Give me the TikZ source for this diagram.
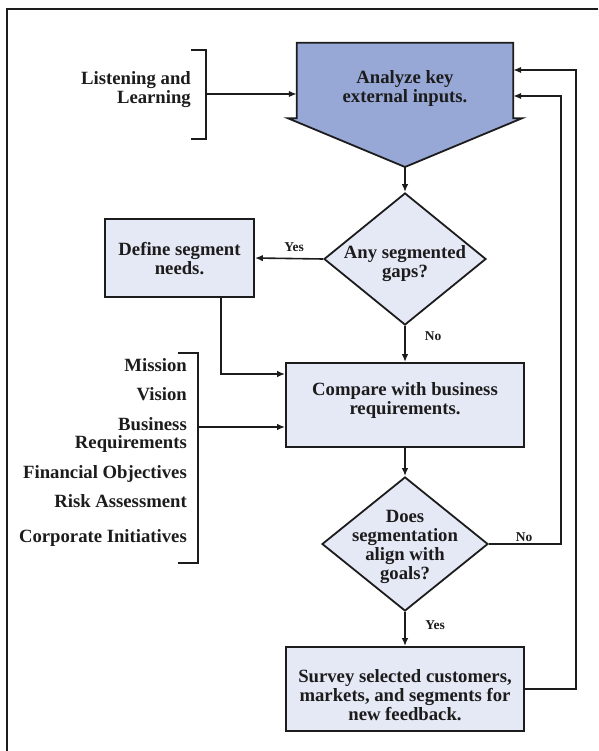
\documentclass[tikz,border=0pt]{standalone}
\usepackage{fontspec}
\setmainfont{Liberation Serif}
\usetikzlibrary{shapes.geometric,arrows.meta,calc}
\definecolor{inputblue}{RGB}{152,168,214}
\definecolor{stepfill}{RGB}{229,233,246}
\definecolor{ink}{RGB}{28,28,28}
\tikzset{
  txt/.style={font=\fontsize{18.7}{19}\selectfont\bfseries, text=ink, align=center, inner sep=0pt},
  sidetxt/.style={txt, align=right, anchor=base east},
  flowtag/.style={font=\fontsize{13.5}{14}\selectfont\bfseries, text=ink, inner sep=0pt},
  stepbox/.style={draw=ink, line width=1.8pt, fill=stepfill, inner sep=0pt},
  decision/.style={diamond, draw=ink, line width=1.8pt, fill=stepfill, inner sep=0pt},
  conn/.style={draw=ink, line width=1.6pt, -{Latex[length=8pt,width=6.5pt]}},
  wire/.style={draw=ink, line width=1.6pt},
}
\begin{document}
\begin{tikzpicture}[x=1pt,y=-1pt]
  \useasboundingbox (0,0) rectangle (598,751);

  % page frame (top and left edges)
  \draw[ink, line width=2.4pt] (598,9) -- (7,9) -- (7,751);

  % input block: rectangle with an arrow-shaped base
  \node[minimum width=216pt, minimum height=75pt, inner sep=0pt] (analyze) at (405,80.5) {};
  \coordinate (tip) at (405,167);
  \draw[draw=ink, line width=1.8pt, fill=inputblue]
    (analyze.south west) -- (analyze.north west) -- (analyze.north east)
    -- (analyze.south east) -- ++(9,0) -- (tip)
    -- ($(analyze.south west)+(-9,0)$) -- cycle;
  \node[txt] (analyzetext) at (405,89) {Analyze key\\external inputs.};

  % decision: segmented gaps
  \node[decision, minimum width=162pt, minimum height=132pt] (gaps) at (405,259) {};
  \node[txt] (gapstext) at (405,264) {Any segmented\\gaps?};

  % segment needs
  \node[stepbox, minimum width=149pt, minimum height=78pt] (define) at (179.5,258) {};
  \node[txt] (definetext) at (179.5,258.5) {Define segment\\needs.};

  % business requirements comparison
  \node[stepbox, minimum width=238pt, minimum height=84pt] (compare) at (405,405) {};
  \node[txt] (comparetext) at (405,400) {Compare with business\\requirements.};

  % decision: alignment with goals
  \node[decision, minimum width=166pt, minimum height=134pt] (goalcheck) at (405,544) {};
  \node[txt] (goalchecktext) at (405,547) {Does\\segmentation\\align with\\goals?};

  % feedback survey
  \node[stepbox, minimum width=238pt, minimum height=84pt] (survey) at (405,689) {};
  \node[txt] (surveytext) at (405,695) {Survey selected customers,\\markets, and segments for\\new feedback.};

  % listening inputs with bracket
  \node[txt, align=right, anchor=east] (listen) at (191,90) {Listening and\\Learning};
  \draw[wire] (191,50) -- (206,50) -- (206,139) -- (191,139);
  \coordinate (listenjoin) at (206,94);
  \draw[conn] (listenjoin) -- (listenjoin -| analyze.west);

  % strategic inputs with bracket
  \node[sidetxt] (mission) at (187,371) {Mission};
  \node[sidetxt] (vision) at (187,400.5) {Vision};
  \node[txt, align=right, anchor=east, font=\fontsize{18.7}{18}\selectfont\bfseries] (busreq) at (187,435) {Business\\Requirements};
  \node[sidetxt] (finobj) at (187,478.5) {Financial Objectives};
  \node[sidetxt] (risk) at (187,507.5) {Risk Assessment};
  \node[sidetxt] (corp) at (187,542) {Corporate Initiatives};
  \draw[wire] (178,353) -- (198,353) -- (198,563) -- (178,563);
  \coordinate (goaljoin) at (198,427);
  \draw[conn] (goaljoin) -- (goaljoin -| compare.west);

  % main flow
  \draw[conn] (tip) -- (gaps.north);
  \draw[conn] (gaps.west) -- (define.east);
  \node[flowtag] (yesone) at (294,247) {Yes};
  \draw[conn] (gaps.south) -- (compare.north);
  \node[flowtag] (noone) at (433,336) {No};
  \coordinate (defbend) at (221,374);
  \draw[conn] (define.south -| defbend) -- (defbend) -- (defbend -| compare.west);
  \draw[conn] (compare.south) -- (goalcheck.north);
  \draw[conn] (goalcheck.south) -- (survey.north);
  \node[flowtag] (yestwo) at (435,625) {Yes};

  % feedback loops back to the input block
  \coordinate (innerrail) at (561,96);
  \draw[conn] (goalcheck.east) -| (innerrail) -- (innerrail -| analyze.east);
  \node[flowtag] (notwo) at (524,537) {No};
  \coordinate (outerrail) at (576,70);
  \draw[conn] (survey.east) -| (outerrail) -- (outerrail -| analyze.east);
\end{tikzpicture}
\end{document}
